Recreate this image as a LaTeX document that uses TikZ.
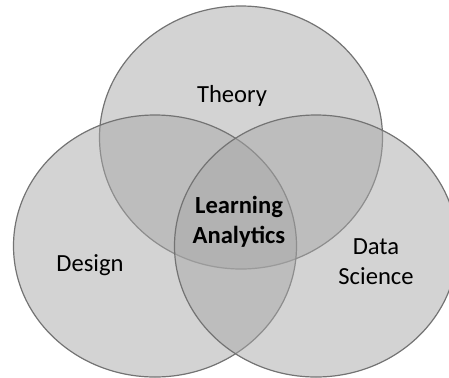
\documentclass[tikz,border=0pt]{standalone}
\usepackage{fontspec}
\setmainfont{Carlito}
\usepackage{tikz}
\usetikzlibrary{positioning}

\tikzset{set/.style={fill=black!34.5, fill opacity=0.5, draw=black!55, line width=0.6pt},
	lbl/.style={font=\fontsize{12.3}{15}\selectfont, align=center, text=black}}

\begin{document}
\begin{tikzpicture}[x=0.5pt,y=0.5pt]
	\useasboundingbox (0,0) rectangle (449,377);
	\clip (0,0) rectangle (449,377);
	% the three sets
	\draw[set] (241,239.5) ellipse (141.5 and 131.5);
	\draw[set] (155,131) ellipse (141.5 and 131);
	\draw[set] (316,131) ellipse (141.5 and 131);
	% labels
	\node[lbl] (theory) at (232,281) {Theory};
	\node[lbl] (design) at (90,112) {Design};
	\node[lbl] (datasci) at (376,115) {Data\\Science};
	\node[lbl, font=\fontsize{12.3}{15}\selectfont\bfseries] (la) at (239,155) {Learning\\Analytics};
\end{tikzpicture}
\end{document}
